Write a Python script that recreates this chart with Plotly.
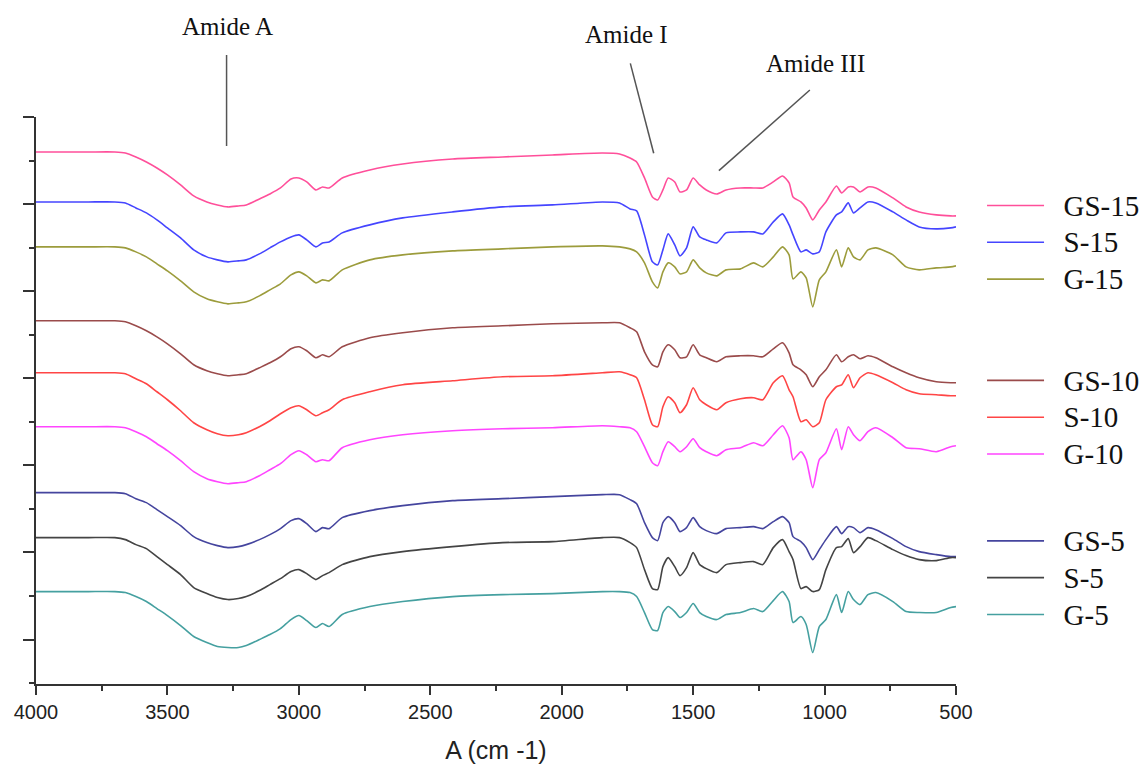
import plotly.graph_objects as go

# Wavenumber grid (cm-1)
wavenumber = [4000, 3900, 3800, 3700, 3660, 3620, 3580, 3540, 3500, 3450, 3400, 3350, 3310, 3270,
              3230, 3200, 3150, 3110, 3070, 3030, 3000, 2970, 2935, 2910, 2885, 2835, 2730, 2605,
              2415, 2225, 2035, 1845, 1780, 1740, 1715, 1685, 1655, 1635, 1615, 1595, 1570, 1550,
              1525, 1500, 1475, 1450, 1410, 1375, 1320, 1270, 1235, 1195, 1160, 1135, 1120, 1090,
              1070, 1045, 1020, 995, 955, 935, 910, 890, 865, 835, 805, 740, 690, 640, 575, 520, 500]

# Stacked transmittance (arbitrary units)
gs15 = [531, 531, 531, 531, 530, 526, 521, 515, 508, 498, 487, 481, 478, 476, 477, 478, 484, 489, 495, 504,
        505, 501, 493, 496, 495, 505, 513, 519, 524, 526, 528, 530, 529,
        525, 521, 505, 486, 483, 493, 505, 501, 491, 493, 505, 498, 493, 489, 493, 495, 495, 495, 501, 507,
        500, 486, 481, 475, 463, 473, 481, 497, 490, 496, 496, 491, 496, 495, 485, 476, 471, 468, 467, 467]
s15 = [481, 481, 481, 481, 480, 475, 470, 463, 455, 445, 433, 426, 423, 421, 422, 423, 429, 435, 441, 446,
       448, 443, 436, 440, 441, 450, 458, 465, 471, 476, 478, 481, 480,
       474, 472, 448, 421, 418, 433, 449, 438, 427, 435, 456, 446, 443, 440, 450, 451, 451, 449, 461, 469,
       458, 448, 431, 433, 429, 431, 451, 468, 471, 480, 470, 475, 481, 480, 471, 463, 456, 454, 455, 456]
g15 = [436, 436, 436, 436, 435, 431, 426, 419, 412, 402, 391, 384, 381, 379, 380, 381, 387, 393, 399, 408,
       411, 407, 400, 403, 402, 413, 423, 428, 432, 434, 436, 437, 436,
       434, 431, 420, 401, 395, 411, 420, 416, 409, 411, 423, 415, 410, 407, 413, 414, 420, 416, 426, 436,
       428, 404, 411, 405, 376, 403, 411, 433, 416, 435, 426, 423, 433, 435, 428, 416, 413, 415, 416, 417]
gs10 = [362, 362, 362, 362, 361, 357, 352, 346, 339, 329, 318, 312, 309, 307, 308, 309, 315, 320, 326, 334,
        336, 332, 325, 328, 326, 336, 345, 350, 355, 357, 359, 360, 360,
        355, 351, 331, 318, 316, 331, 338, 333, 325, 326, 338, 328, 325, 321, 326, 327, 327, 326, 334, 340,
        330, 318, 313, 308, 296, 306, 313, 328, 321, 326, 328, 324, 327, 325, 316, 310, 305, 301, 300, 300]
s10 = [310, 310, 310, 310, 309, 304, 299, 291, 283, 272, 260, 253, 249, 247, 248, 250, 256, 262, 269, 275,
       277, 273, 267, 270, 273, 283, 291, 298, 302, 306, 307, 310, 311,
       308, 305, 283, 258, 256, 276, 286, 280, 270, 278, 295, 283, 278, 273, 280, 284, 285, 283, 300, 307,
       293, 286, 261, 263, 256, 260, 283, 296, 298, 308, 295, 305, 310, 308, 300, 293, 289, 288, 287, 287]
g10 = [256, 256, 256, 256, 255, 251, 246, 239, 232, 222, 211, 204, 201, 199, 200, 201, 207, 213, 219, 228,
       232, 228, 221, 223, 222, 235, 243, 248, 252, 254, 255, 257, 256,
       255, 251, 236, 220, 217, 231, 241, 236, 231, 236, 244, 235, 231, 227, 233, 235, 240, 237, 248, 257,
       245, 223, 231, 223, 195, 223, 230, 254, 233, 256, 248, 242, 251, 255, 245, 235, 234, 231, 236, 237]
gs5 = [190, 190, 190, 190, 189, 184, 180, 173, 166, 157, 146, 140, 137, 135, 136, 138, 143, 148, 154, 162,
       164, 159, 151, 155, 154, 165, 172, 177, 182, 184, 186, 188, 188,
       183, 179, 160, 145, 142, 160, 166, 160, 151, 155, 165, 156, 152, 149, 154, 155, 156, 154, 161, 166,
       160, 146, 141, 135, 123, 133, 143, 156, 149, 156, 155, 150, 155, 153, 144, 136, 131, 128, 126, 126]
s5 = [145, 145, 145, 145, 143, 138, 134, 126, 118, 108, 95, 89, 85, 83, 84, 86, 92, 98, 104, 111,
      113, 109, 103, 107, 110, 118, 126, 131, 136, 140, 141, 145, 145,
      140, 135, 113, 94, 93, 116, 125, 116, 107, 115, 130, 118, 114, 110, 118, 120, 121, 118, 135, 143,
      131, 123, 94, 96, 91, 93, 113, 135, 136, 144, 130, 136, 145, 142, 133, 127, 123, 122, 125, 125]
g5 = [91, 91, 91, 91, 90, 86, 81, 74, 67, 57, 46, 40, 36, 35, 35, 37, 43, 48, 54, 63,
      67, 62, 55, 59, 56, 68, 76, 81, 86, 88, 89, 91, 91,
      90, 86, 70, 53, 52, 70, 76, 71, 65, 70, 79, 70, 66, 63, 68, 70, 74, 71, 82, 91,
      81, 60, 66, 58, 30, 56, 63, 88, 70, 91, 83, 78, 88, 90, 81, 71, 70, 70, 75, 76]

series_names = ["GS-15", "S-15", "G-15", "GS-10", "S-10", "G-10", "GS-5", "S-5", "G-5"]
series_values = [gs15, s15, g15, gs10, s10, g10, gs5, s5, g5]
series_colors = ["#FF4F9A", "#4545FF", "#9C9C3C", "#9A4B4B", "#FF4545", "#FF45FF", "#45459E", "#444444", "#45A0A0"]
series_legend = ["legend", "legend", "legend", "legend2", "legend2", "legend2", "legend3", "legend3", "legend3"]

SERIF = "Liberation Serif, Times New Roman, serif"
SANS = "Liberation Sans, Arial, sans-serif"

fig = go.Figure()
for name, vals, col, leg in zip(series_names, series_values, series_colors, series_legend):
    fig.add_trace(go.Scatter(
        x=wavenumber, y=vals, mode="lines",
        line=dict(color=col, width=1.6, shape="spline", smoothing=0.6),
        name='<span style="font-size:29px">\u00a0\u00a0' + name + '</span>',
        legend=leg,
    ))

legend_common = dict(x=1.0283, xanchor="left", yanchor="middle",
                     font=dict(family=SERIF, size=26, color="#111"),
                     itemwidth=57, bgcolor="rgba(0,0,0,0)", borderwidth=0)

fig.update_layout(
    width=1140, height=756,
    margin=dict(l=28, r=192, t=109, b=79.5, autoexpand=False),
    plot_bgcolor="white", paper_bgcolor="white",
    showlegend=True,
    legend=dict(y=0.7785, **legend_common),
    legend2=dict(y=0.4700, **legend_common),
    legend3=dict(y=0.1870, **legend_common),
    xaxis=dict(
        range=[4000, 500], tick0=0, dtick=500,
        showline=True, linecolor="#333", linewidth=1.6, mirror=False,
        ticks="outside", ticklen=9, tickwidth=1.6, tickcolor="#333",
        tickfont=dict(family=SANS, size=20, color="#222"),
        showgrid=False, zeroline=False,
        minor=dict(dtick=250, ticks="outside", ticklen=5, tickwidth=1.6, tickcolor="#333", showgrid=False),
        title=dict(text="A (cm -1)", font=dict(family=SANS, size=25, color="#222"), standoff=20),
    ),
    yaxis=dict(
        range=[-1.5, 566], tick0=43, dtick=87.16,
        showline=True, linecolor="#333", linewidth=1.6,
        ticks="outside", ticklen=11, tickwidth=1.6, tickcolor="#333",
        showticklabels=False, showgrid=False, zeroline=False,
        minor=dict(tick0=-0.58, dtick=43.58, ticks="outside", ticklen=5, tickwidth=1.6, tickcolor="#333", showgrid=False),
    ),
)

# Band annotations
ann_font = dict(family=SERIF, size=25, color="#111")
fig.add_annotation(x=3270, xref="x", y=1.1600, yref="paper", text="Amide A", showarrow=False,
                   font=ann_font, xanchor="center", yanchor="middle")
fig.add_annotation(x=1754, xref="x", y=1.1450, yref="paper", text="Amide I", showarrow=False,
                   font=ann_font, xanchor="center", yanchor="middle")
fig.add_annotation(x=1036, xref="x", y=1.0950, yref="paper", text="Amide III", showarrow=False,
                   font=ann_font, xanchor="center", yanchor="middle")

pointer = dict(color="#555", width=1.5)
fig.add_shape(type="line", xref="x", yref="paper", x0=3275, x1=3275, y0=1.1093, y1=0.9489, line=pointer)
fig.add_shape(type="line", xref="x", yref="paper", x0=1739, x1=1650, y0=1.0946, y1=0.9360, line=pointer)
fig.add_shape(type="line", xref="x", yref="paper", x0=1056, x1=1402, y0=1.0476, y1=0.9054, line=pointer)

fig.write_html("out.html")
